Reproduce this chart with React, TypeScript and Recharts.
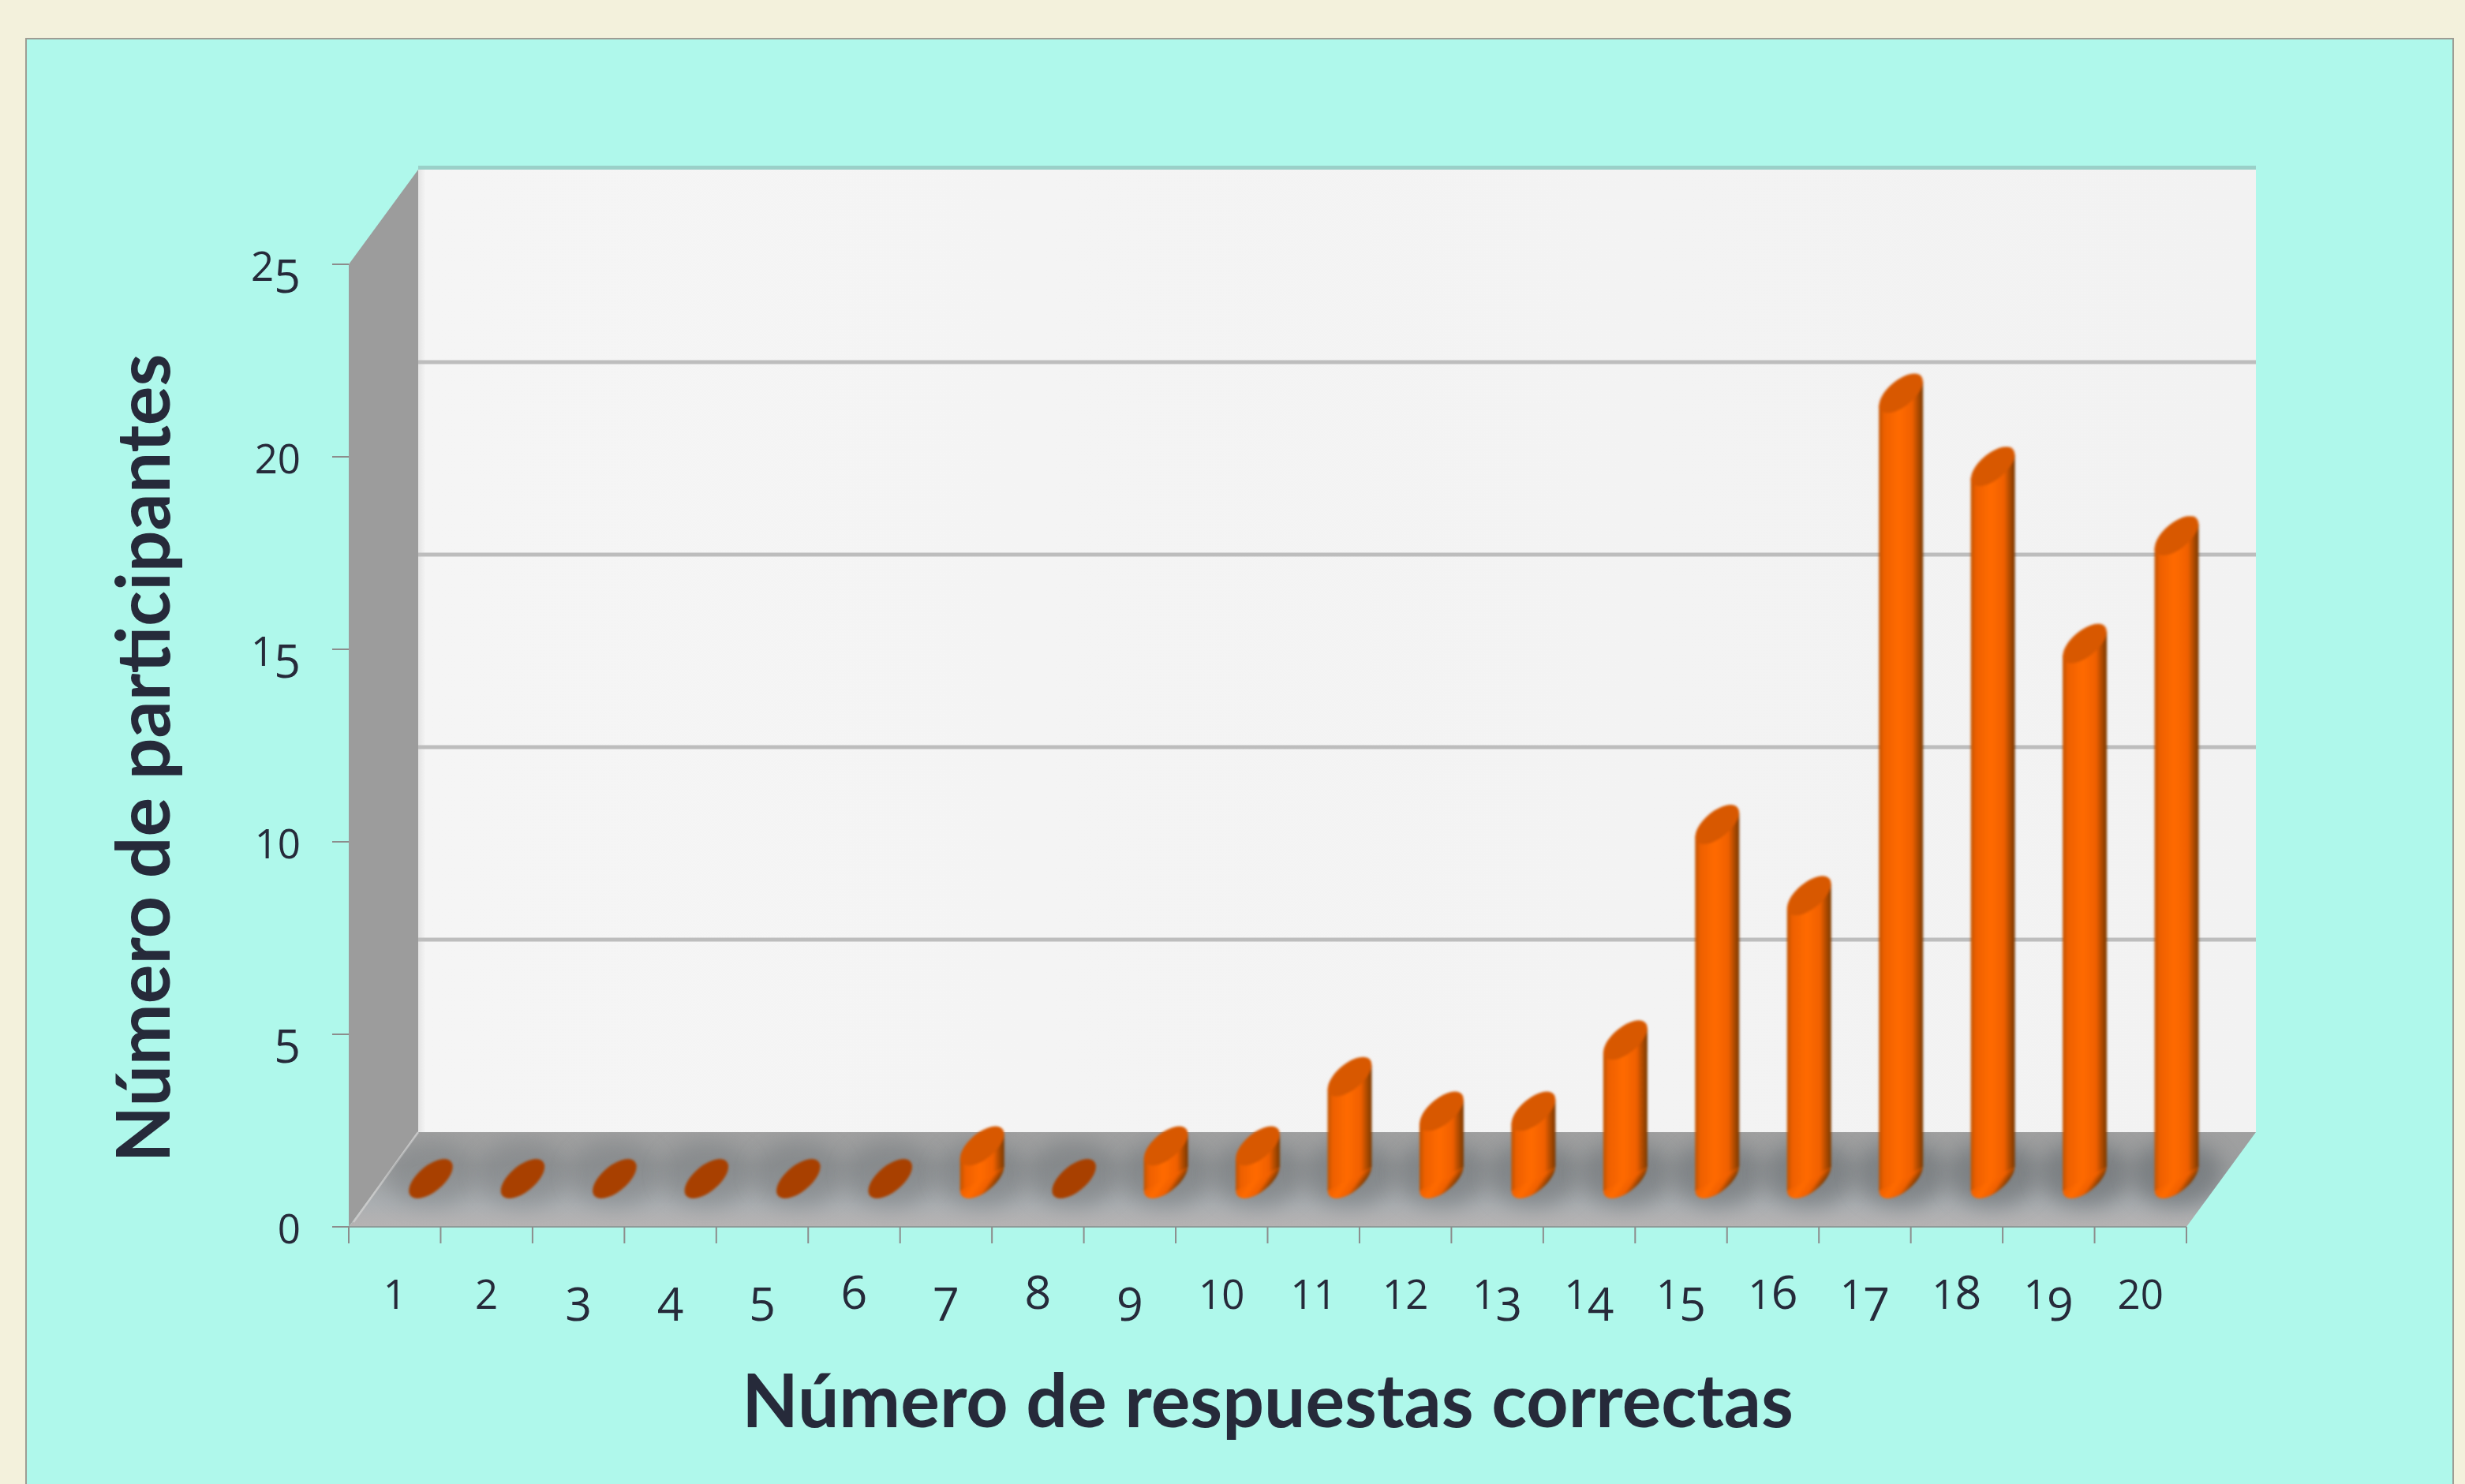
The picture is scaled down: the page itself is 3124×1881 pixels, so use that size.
import React from 'react';
import { ComposedChart, Bar, XAxis, YAxis, ReferenceArea } from 'recharts';

const categories = ['1','2','3','4','5','6','7','8','9','10','11','12','13','14','15','16','17','18','19','20'];
const participants = [0,0,0,0,0,0,0.85,0,0.85,0.85,2.65,1.75,1.75,3.6,9.2,7.35,20.4,18.5,13.9,16.7];
const yTicks = [0,5,10,15,20,25];
const xTitle = 'Número de respuestas correctas';
const yTitle = 'Número de participantes';

const data = categories.map((c, i) => ({ name: c, value: participants[i] }));

const W = 3124, H = 1881;
const DEPTH_X = 88, DEPTH_Y = 120;
const BAR_DX = 46, BAR_DY = 61;
const TEXT = '#262a3a';
const BAND = (2771 - 442) / 20;

const Backdrop = (p: any) => {
  const { x, y, width, height } = p;
  const b = y + height;
  const r = x + width;
  const gy = (v: number) => b - (height * v) / 25 - DEPTH_Y;
  const floor = `${x},${b} ${r},${b} ${r + DEPTH_X},${b - DEPTH_Y} ${x + DEPTH_X},${b - DEPTH_Y}`;
  return (
    <g>
      <defs>
        <linearGradient id="floorG" x1="0" y1="0" x2="0" y2="1">
          <stop offset="0" stopColor="#a0a0a0" />
          <stop offset="0.35" stopColor="#9c9e9f" />
          <stop offset="0.75" stopColor="#aaaeb1" />
          <stop offset="1" stopColor="#b6b3b3" />
        </linearGradient>
        <linearGradient id="backG" x1="0" y1="0" x2="1" y2="0">
          <stop offset="0" stopColor="#e4e4e4" />
          <stop offset="0.004" stopColor="#f5f5f5" />
          <stop offset="1" stopColor="#f2f2f2" />
        </linearGradient>
        <clipPath id="floorClip"><polygon points={floor} /></clipPath>
        <filter id="soft" x="-50%" y="-50%" width="200%" height="200%"><feGaussianBlur stdDeviation="13" /></filter>
        <filter id="softTiny" x="-20%" y="-20%" width="140%" height="140%"><feGaussianBlur stdDeviation="1.4" /></filter>
      </defs>
      <rect x={x + DEPTH_X} y={y - DEPTH_Y - 5} width={width} height={6} fill="#9ad0c8" />
      <rect x={x + DEPTH_X} y={y - DEPTH_Y} width={width} height={height} fill="url(#backG)" />
      <polygon points={`${x},${y} ${x + DEPTH_X},${y - DEPTH_Y} ${x + DEPTH_X},${b - DEPTH_Y} ${x},${b}`} fill="#9c9c9c" />
      {yTicks.slice(1, -1).map((v) => (
        <line key={v} x1={x + DEPTH_X} x2={r + DEPTH_X} y1={gy(v)} y2={gy(v)} stroke="#bdbdbd" strokeWidth={5} />
      ))}
      <polygon points={floor} fill="url(#floorG)" />
      <line x1={x + 6} y1={b - 6} x2={x + DEPTH_X} y2={b - DEPTH_Y} stroke="#c9c9c9" strokeWidth={2.5} />
      <line x1={x} y1={b} x2={r} y2={b} stroke="#8f9a98" strokeWidth={2} />
    </g>
  );
};

const Cylinder = (p: any) => {
  const { x, y, width, height, index } = p;
  const cx = x + width / 2 + BAR_DX;
  const baseY = y + height - BAR_DY;
  const topY = y - BAR_DY;
  const id = `cyl${index}`;
  const rx = width / 2;
  const ux = 22, vx = 17, vy = 25;
  const tan = (vy * vx) / Math.sqrt(ux * ux + vx * vx);
  const flat = height < 1;
  const shadow = 0.36 + (index / categories.length) * 0.4;
  return (
    <g>
      <defs>
        <linearGradient id={id} x1="0" y1="0" x2="1" y2="0">
          <stop offset="0" stopColor="#c05200" />
          <stop offset="0.12" stopColor="#ee6000" />
          <stop offset="0.45" stopColor="#ff6a00" />
          <stop offset="0.75" stopColor="#f06000" />
          <stop offset="0.95" stopColor="#8f4000" />
          <stop offset="1" stopColor="#7a3800" />
        </linearGradient>
      </defs>
      <g clipPath="url(#floorClip)">
        <ellipse cx={cx} cy={baseY - 6} rx={58} ry={42} fill="#6f7478" opacity={shadow} filter="url(#soft)" />
      </g>
      <g filter="url(#softTiny)">
        {!flat && (
          <>
            <circle r={1} transform={`matrix(${ux},0,${vx},${-vy},${cx},${baseY})`} fill={`url(#${id})`} />
            <polygon
              points={`${cx - rx},${topY + tan} ${cx + rx},${topY - tan} ${cx + rx},${baseY - tan} ${cx - rx},${baseY + tan}`}
              fill={`url(#${id})`}
            />
          </>
        )}
        <circle r={1} transform={`matrix(${ux},0,${vx},${-vy},${cx},${topY})`} fill={flat ? '#a84000' : '#d85800'} />
      </g>
    </g>
  );
};

const DigitText = ({ x, y, text, anchor }: { x: number; y: number; text: string; anchor: string }) => {
  let prev = 0;
  return (
    <text x={x} y={y} textAnchor={anchor} fontFamily="'Open Sans'" fill={TEXT}>
      {text.split('').map((c, i) => {
        const low = '012'.includes(c);
        const desc = '34579'.includes(c);
        const shift = desc ? 15 : 0;
        const dy = shift - prev;
        prev = shift;
        return (
          <tspan key={i} dy={dy} fontSize={low ? 51 : 59}>
            {c}
          </tspan>
        );
      })}
    </text>
  );
};

const XTick = (p: any) => {
  const { x, y, payload, index } = p;
  const last = index === categories.length - 1;
  const top = y;
  return (
    <g>
      <line x1={x - BAND / 2} x2={x - BAND / 2} y1={top} y2={top + 21} stroke="#8c8c8c" strokeWidth={2} />
      {last && <line x1={x + BAND / 2} x2={x + BAND / 2} y1={top} y2={top + 21} stroke="#8c8c8c" strokeWidth={2} />}
      <DigitText x={x} y={top + 104} text={String(payload.value)} anchor="middle" />
    </g>
  );
};

const YTick = (p: any) => {
  const { x, y, payload } = p;
  return <DigitText x={x - 38} y={y + 21} text={String(payload.value)} anchor="end" />;
};

export default function App() {
  return (
    <div style={{ position: 'absolute', left: 0, top: 0, width: W, height: H, overflow: 'hidden', background: '#f3f1dc' }}>
      <div style={{ position: 'absolute', left: 32, top: 48, width: 3074, height: 1900, background: '#aff8eb', border: '2px solid #9d9d94' }} />
      <div style={{ position: 'absolute', left: 0, top: 0 }}>
        <ComposedChart
          width={W}
          height={H}
          data={data}
          margin={{ top: 335, right: 353, bottom: 6, left: 42 }}
          barCategoryGap={0}
        >
          <XAxis
            dataKey="name"
            height={320}
            interval={0}
            tickLine={false}
            axisLine={false}
            tickMargin={0}
            tickSize={0}
            tick={XTick}
            label={{ value: xTitle, position: 'insideBottom', offset: 66, fontSize: 93, fontWeight: 700, fontFamily: 'Lato', fill: TEXT }}
          />
          <YAxis
            type="number"
            domain={[0, 25]}
            ticks={yTicks}
            width={400}
            interval={0}
            axisLine={false}
            tickSize={21}
            tickLine={{ stroke: '#8c8c8c', strokeWidth: 2 }}
            tick={YTick}
            label={{ value: yTitle, angle: -90, position: 'insideLeft', offset: 140, dy: 16, fontSize: 93, fontWeight: 700, fontFamily: 'Lato', fill: TEXT, textAnchor: 'middle' }}
          />
          <ReferenceArea y1={0} y2={25} shape={Backdrop} ifOverflow="visible" />
          <Bar dataKey="value" barSize={56} isAnimationActive={false} shape={Cylinder} />
        </ComposedChart>
      </div>
    </div>
  );
}
